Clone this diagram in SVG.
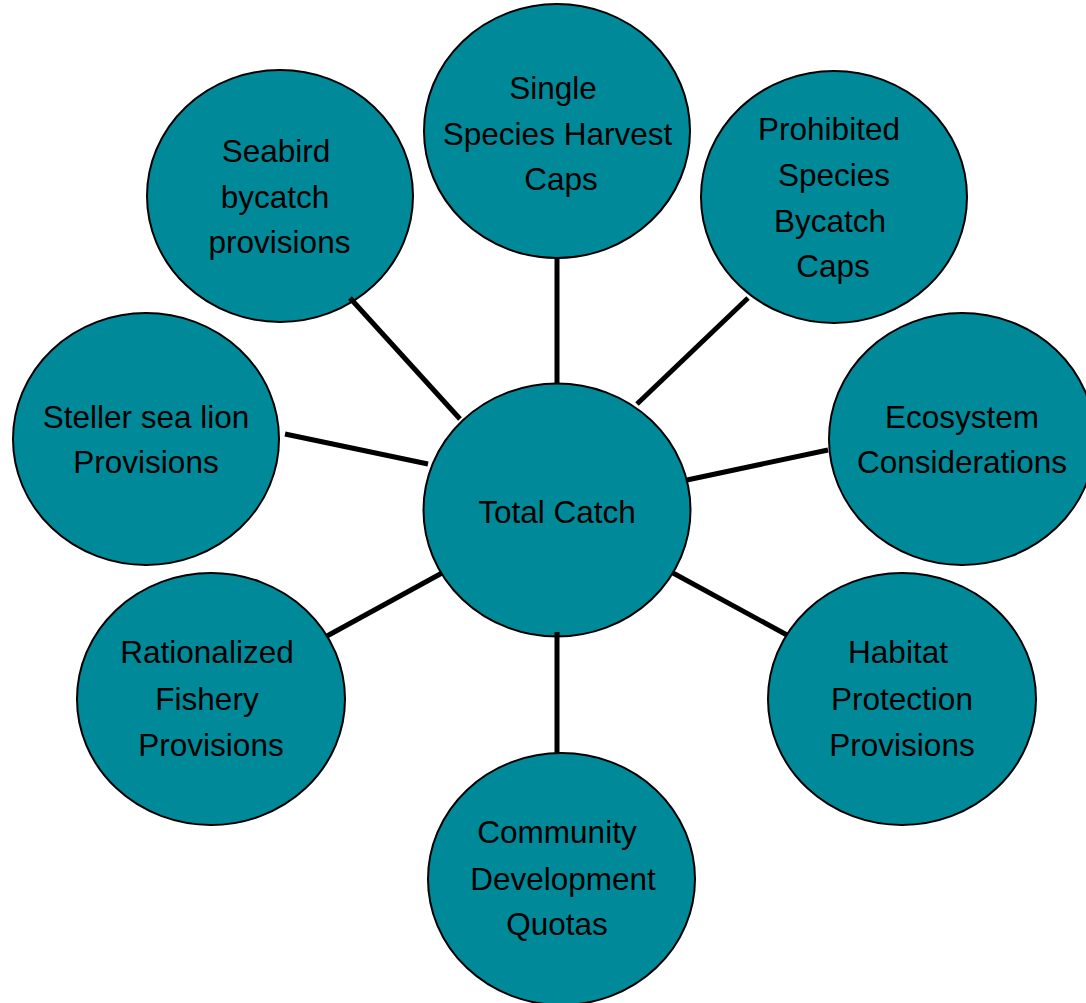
<svg xmlns="http://www.w3.org/2000/svg" width="1086" height="1003" viewBox="0 0 1086 1003">
<style>
.node ellipse{fill:#008A99;stroke:#000;stroke-width:2}
.node text{font-family:"Liberation Sans",Arial,sans-serif;font-size:31.5px;fill:#000;text-anchor:middle}
#connectors line{stroke:#000;stroke-width:5}
</style>
<rect width="1086" height="1003" fill="#fff"/>
<g id="node-single" class="node"><ellipse cx="557" cy="131" rx="133" ry="127"/><text x="553" y="99">Single</text><text x="557.5" y="145">Species Harvest</text><text x="561" y="190">Caps</text></g>
<g id="node-prohibited" class="node"><ellipse cx="834" cy="197" rx="133" ry="126"/><text x="829" y="140">Prohibited</text><text x="834" y="186">Species</text><text x="830" y="232">Bycatch</text><text x="833" y="277">Caps</text></g>
<g id="node-seabird" class="node"><ellipse cx="280" cy="196" rx="133" ry="126"/><text x="276" y="162">Seabird</text><text x="275" y="208">bycatch</text><text x="279.5" y="253">provisions</text></g>
<g id="node-steller" class="node"><ellipse cx="146" cy="439" rx="133" ry="126"/><text x="146" y="428">Steller sea lion</text><text x="146" y="473">Provisions</text></g>
<g id="node-ecosystem" class="node"><ellipse cx="962" cy="439" rx="133" ry="126"/><text x="962" y="428">Ecosystem</text><text x="962" y="473">Considerations</text></g>
<g id="node-rationalized" class="node"><ellipse cx="211" cy="699" rx="134" ry="126"/><text x="207" y="663">Rationalized</text><text x="207" y="710">Fishery</text><text x="211" y="756">Provisions</text></g>
<g id="node-habitat" class="node"><ellipse cx="902" cy="699" rx="134" ry="126"/><text x="898" y="663">Habitat</text><text x="902" y="710">Protection</text><text x="902" y="756">Provisions</text></g>
<g id="node-community" class="node"><ellipse cx="561.5" cy="879" rx="133.5" ry="126"/><text x="557" y="843">Community</text><text x="563" y="890">Development</text><text x="557" y="935">Quotas</text></g>
<g id="node-total" class="node"><ellipse cx="557" cy="510" rx="133.5" ry="126.5"/><text x="557" y="523">Total Catch</text></g>
<g id="connectors">
<line x1="557" y1="258" x2="557" y2="384"/>
<line x1="350" y1="298" x2="460" y2="419"/>
<line x1="285" y1="434" x2="428" y2="464"/>
<line x1="748" y1="298" x2="637" y2="404"/>
<line x1="828" y1="450" x2="687" y2="480"/>
<line x1="327" y1="636" x2="442" y2="573"/>
<line x1="673" y1="573" x2="787" y2="635"/>
<line x1="557" y1="632" x2="557" y2="753"/>
</g>
</svg>
